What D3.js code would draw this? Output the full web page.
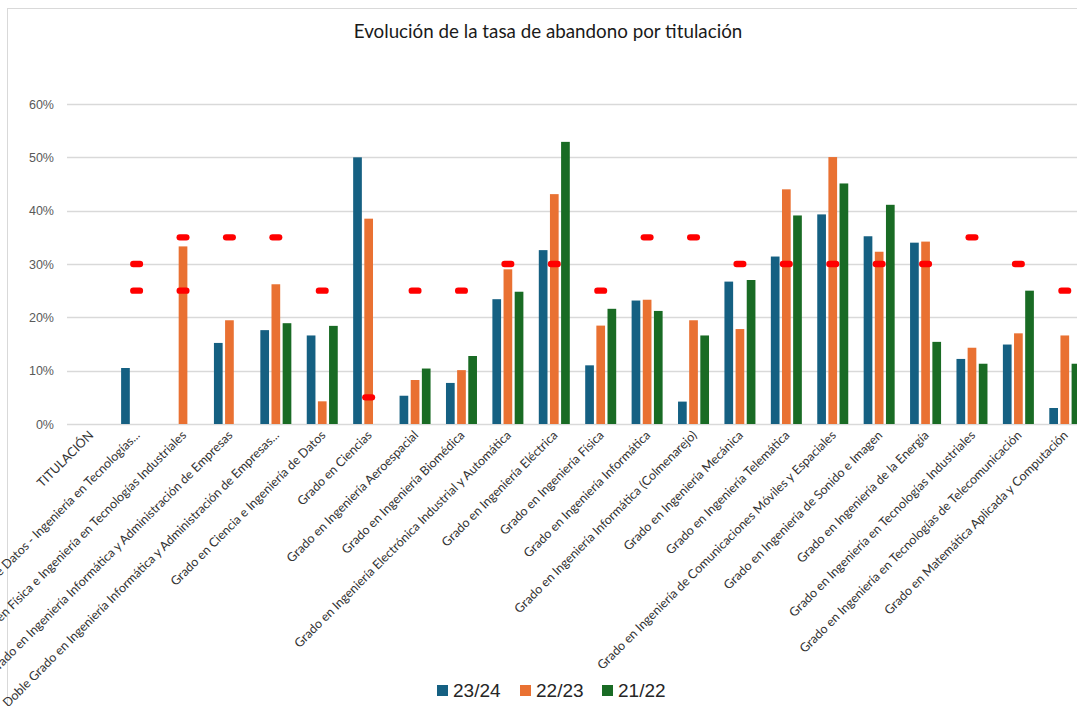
<!DOCTYPE html>
<html>
<head>
<meta charset="utf-8">
<script src="https://cdn.jsdelivr.net/npm/d3@7"></script>
<style>
  html, body { margin: 0; padding: 0; background: #fff; }
  svg { display: block; }
</style>
</head>
<body>
<svg id="chart" width="1077" height="706"></svg>
<script>
const categories = [
  "TITULACIÓN",
  "Doble Grado en Ciencia e Ingeniería de Datos - Ingeniería en Tecnologías...",
  "Doble Grado en Física e Ingeniería en Tecnologías Industriales",
  "Doble Grado en Ingeniería Informática y Administración de Empresas",
  "Doble Grado en Ingeniería Informática y Administración de Empresas...",
  "Grado en Ciencia e Ingeniería de Datos",
  "Grado en Ciencias",
  "Grado en Ingeniería Aeroespacial",
  "Grado en Ingeniería Biomédica",
  "Grado en Ingeniería Electrónica Industrial y Automática",
  "Grado en Ingeniería Eléctrica",
  "Grado en Ingeniería Física",
  "Grado en Ingeniería Informática",
  "Grado en Ingeniería Informática (Colmenarejo)",
  "Grado en Ingeniería Mecánica",
  "Grado en Ingeniería Telemática",
  "Grado en Ingeniería de Comunicaciones Móviles y Espaciales",
  "Grado en Ingeniería de Sonido e Imagen",
  "Grado en Ingeniería de la Energía",
  "Grado en Ingeniería en Tecnologías Industriales",
  "Grado en Ingeniería en Tecnologías de Telecomunicación",
  "Grado en Matemática Aplicada y Computación"
];
const seriesNames = ["23/24", "22/23", "21/22"];
const values2324 = [null, 10.5, null, 15.2, 17.6, 16.6, 50.0, 5.3, 7.7, 23.4, 32.6, 11.0, 23.15, 4.2, 26.7, 31.4, 39.3, 35.2, 34.0, 12.2, 14.9, 3.0];
const values2223 = [null, null, 33.3, 19.45, 26.2, 4.25, 38.5, 8.25, 10.1, 29.0, 43.1, 18.45, 23.3, 19.45, 17.8, 44.0, 50.05, 32.3, 34.2, 14.3, 17.0, 16.6];
const values2122 = [null, null, null, null, 18.9, 18.4, null, 10.4, 12.75, 24.8, 52.9, 21.6, 21.2, 16.6, 27.0, 39.1, 45.1, 41.1, 15.4, 11.3, 25.0, 11.3];
const objetivoA = [null, 30, 35, 35, 35, 25, 5, 25, 25, 30, 30, 25, 35, 35, 30, 30, 30, 30, 30, 35, 30, 25];
const objetivoB = [null, 25, 25, null, null, null, null, null, null, null, null, null, null, null, null, null, null, null, null, null, null, null];
const yTicks = [0, 10, 20, 30, 40, 50, 60];
const title = "Evolución de la tasa de abandono por titulación";
const colors = ["#156082", "#E97132", "#196B24"];

const svg = d3.select("#chart");
const W = 1077, H = 706;
const m = { left: 67, right: 1088, top: 104, bottom: 424 };

// chart border
svg.append("rect").attr("x", 7.5).attr("y", 8.5).attr("width", 1200).attr("height", 800)
  .attr("fill", "none").attr("stroke", "#d9d9d9").attr("stroke-width", 1);

svg.append("text").attr("x", 548).attr("y", 38).attr("text-anchor", "middle")
  .attr("font-family", "Lato, 'Open Sans', sans-serif").attr("font-size", 18.8)
  .attr("fill", "#1a1a1a").text(title);

const x = d3.scaleBand().domain(categories).range([m.left, m.right]).paddingInner(0).paddingOuter(0);
const x1 = d3.scaleBand().domain(seriesNames).range([0, 31]).paddingInner(0.22);
const y = d3.scaleLinear().domain([0, 60]).range([m.bottom, m.top]);

// gridlines
svg.append("g").selectAll("line").data(yTicks).join("line")
  .attr("x1", m.left).attr("x2", W).attr("y1", d => Math.round(y(d)) + 0.5).attr("y2", d => Math.round(y(d)) + 0.5)
  .attr("stroke", "#d9d9d9").attr("stroke-width", 1.3);

// y labels
const yAxis = d3.axisLeft(y).tickValues(yTicks).tickFormat(d => d + "%").tickSize(0).tickPadding(0);
const gy = svg.append("g").attr("transform", `translate(54,0)`).call(yAxis);
gy.select(".domain").remove();
gy.selectAll("text").attr("font-family", "'Liberation Sans', Arial, sans-serif").attr("font-size", 12.5).attr("fill", "#595959");

// bars
const seriesData = [values2324, values2223, values2122];
seriesData.forEach((vals, si) => {
  svg.append("g").selectAll("rect")
    .data(categories.map((c, i) => ({ c, v: vals[i] })).filter(d => d.v != null))
    .join("rect")
    .attr("x", d => x(d.c) + (x.bandwidth() - 31) / 2 + x1(seriesNames[si]))
    .attr("width", x1.bandwidth())
    .attr("y", d => y(d.v))
    .attr("height", d => y(0) - y(d.v))
    .attr("fill", colors[si]);
});

// red dash markers
[objetivoA, objetivoB].forEach(vals => {
  svg.append("g").selectAll("rect")
    .data(categories.map((c, i) => ({ c, v: vals[i] })).filter(d => d.v != null))
    .join("rect")
    .attr("x", d => x(d.c) + x.bandwidth() / 2 - 6.5)
    .attr("y", d => y(d.v) - 3.2)
    .attr("width", 13).attr("height", 6.4).attr("rx", 3.2)
    .attr("fill", "#FF0000");
});

// x labels
svg.append("g").selectAll("text").data(categories).join("text")
  .attr("transform", d => `translate(${x(d) + x.bandwidth() / 2 + 4},${436}) rotate(-45)`)
  .attr("text-anchor", "end")
  .attr("font-family", "Lato, 'Noto Sans', sans-serif").attr("font-size", 12.5)
  .attr("fill", "#333333")
  .text(d => d);

// legend
const lg = svg.append("g");
const legendX = [437, 520, 602];
seriesNames.forEach((s, i) => {
  lg.append("rect").attr("x", legendX[i]).attr("y", 685).attr("width", 11).attr("height", 11).attr("fill", colors[i]);
  lg.append("text").attr("x", legendX[i] + 16).attr("y", 697)
    .attr("font-family", "'Liberation Sans', Arial, sans-serif").attr("font-size", 19)
    .attr("fill", "#262626").text(s);
});
</script>
</body>
</html>
